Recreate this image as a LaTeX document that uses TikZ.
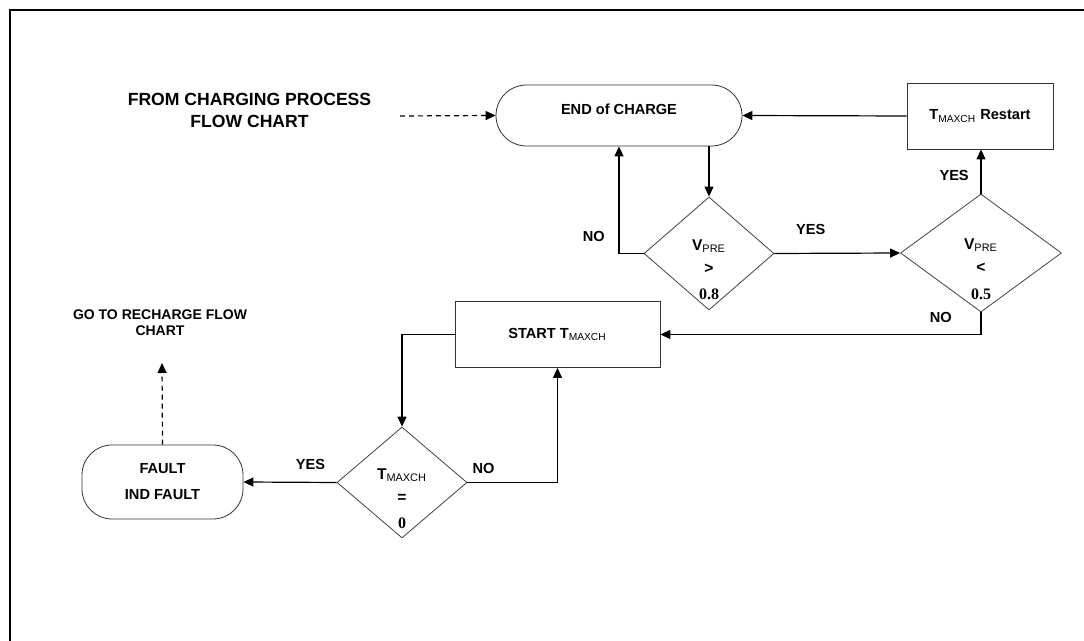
\documentclass[tikz,border=0pt]{standalone}
\usepackage{fontspec}
\setmainfont{Liberation Sans}
\newfontfamily\numfont{Liberation Serif}
\usetikzlibrary{shapes.geometric,shapes.misc,arrows.meta,positioning}

\newcommand{\tmaxch}{T\textsubscript{\mdseries MAXCH}}
\newcommand{\vpre}{V\textsubscript{\mdseries PRE}}
\newcommand{\numtxt}[1]{{\numfont\fontsize{8}{9}\selectfont #1}}

\begin{document}
\begin{tikzpicture}[x=0.5pt, y=-0.5pt,
        every node/.style={font=\fontsize{7.3}{8.5}\selectfont\bfseries},
        >={Triangle[length=5pt,width=4.5pt]},
        terminal/.style={draw=black!80, rounded rectangle, minimum width=123pt, minimum height=30.5pt, inner sep=0pt},
        faultbox/.style={draw=black!80, rounded corners=15pt, minimum width=80.5pt, minimum height=37pt, align=center},
        procbox/.style={draw=black!80, rectangle, minimum height=33pt, inner sep=0pt},
        decision/.style={draw=black!75, diamond, inner sep=0pt, minimum width=65pt, minimum height=56.5pt},
        dectext/.style={align=center, yshift=-8pt, font=\fontsize{7.8}{8.5}\selectfont\bfseries},
        flow/.style={->, line width=0.6pt},
        dashflow/.style={->, line width=0.6pt, dash pattern=on 2.5pt off 2pt},
        frame/.style={line width=1.1pt}]
        \useasboundingbox (0,0) rectangle (1084,641);
        \draw[frame] (10,641) -- (10,10) -- (1084,10);

        \node[align=center, font=\fontsize{8.8}{11}\selectfont\bfseries] (from) at (249.5,110) {FROM CHARGING PROCESS\\FLOW CHART};
        \node[terminal, text depth=6.5pt] (eoc) at (619,115.5) {END of CHARGE};
        \node[procbox, minimum width=73pt] (rst) at (980,116) {\tmaxch{} Restart};
        \node[decision] (d1) at (709,253.5) {};
        \node[dectext] (t1) at (d1) {\vpre\\[3.3pt]>\\[4.3pt]\numtxt{0.8}};
        \node[decision, minimum width=80.5pt, minimum height=59pt] (d2) at (981,253) {};
        \node[dectext] (t2) at (d2) {\vpre\\[3.3pt]<\\[4.8pt]\numtxt{0.5}};
        \node[procbox, minimum width=102.5pt] (start) at (557.5,334.5) {START \tmaxch};
        \node[decision, minimum height=55.5pt] (d3) at (402,482.5) {};
        \node[dectext] (t3) at (d3) {\tmaxch\\[3.3pt]=\\[4.3pt]\numtxt{0}};
        \node[faultbox] (fault) at (162.5,482) {FAULT\\[4.5pt]IND FAULT};
        \node[align=center, font=\fontsize{7}{8}\selectfont\bfseries] (goto) at (160,323) {GO TO RECHARGE FLOW\\CHART};
        \coordinate (fcp) at (400,116);
        \coordinate (gtp) at (162,363);

        \draw[dashflow] (fcp) -- (eoc.west);
        \draw[flow] (rst.west) -- (eoc.east);
        \draw[flow] (eoc.south -| d1.north) -- (d1.north);
        \draw[flow] (d1.west) -| node[pos=0.58, left=3.5pt] (no1) {NO} (eoc.south);
        \draw[flow] (d1.east) -- node[pos=0.29, above=5.5pt] (yes1) {YES} (d2.west);
        \draw[flow] (d2.north) -- node[pos=0.4, left=2.5pt] (yes2) {YES} (d2.north |- rst.south);
        \draw[flow] (d2.south) |- node[pos=0.11, left=11pt] (no2) {NO} (start.east);
        \draw[flow] (start.west) -| (d3.north);
        \draw[flow] (d3.east) -| node[pos=0.09, above=1pt] (no3) {NO} (start.south);
        \draw[flow] (d3.west) -- node[pos=0.28, above=2.6pt] (yes3) {YES} (fault.east);
        \draw[dashflow] (fault.north) -- (gtp);
    \end{tikzpicture}
\end{document}
